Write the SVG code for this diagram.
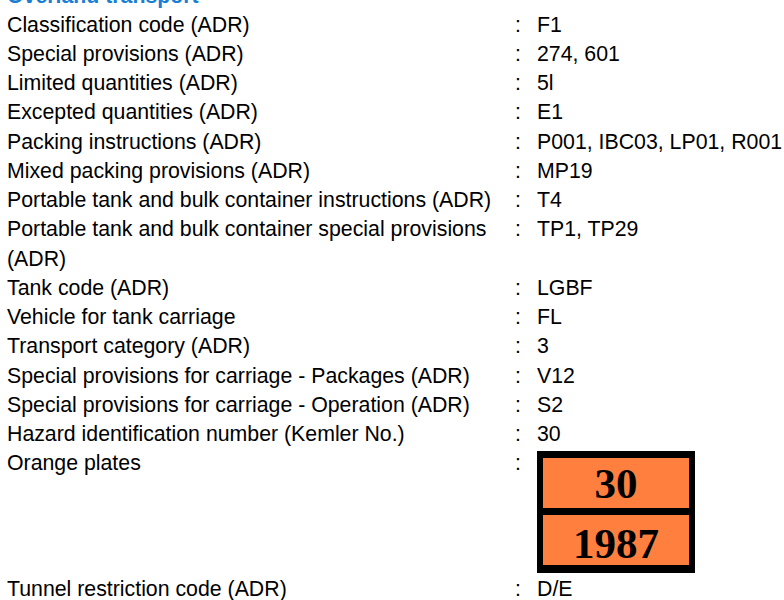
<svg xmlns="http://www.w3.org/2000/svg" width="784" height="600" viewBox="0 0 784 600">
<style>
text{font-family:"Liberation Sans",Arial,sans-serif;font-size:21.3px;fill:#000}
.h{font-weight:bold;fill:#1a7fd4}
.c{}
.p{font-family:"Liberation Serif","Times New Roman",serif;font-weight:bold;font-size:43px;text-anchor:middle}
.o{fill:#ff7f3f}
</style>
<rect width="784" height="600" fill="#fff"/>
<g id="header"><text class="h" x="7" y="3">Overland transport</text></g>
<g id="r0"><text x="7" y="31.5">Classification code (ADR)</text><text x="515" y="31.5">:</text><text x="537" y="31.5">F1</text></g>
<g id="r1"><text x="7" y="60.75">Special provisions (ADR)</text><text x="515" y="60.75">:</text><text x="537" y="60.75">274, 601</text></g>
<g id="r2"><text x="7" y="90">Limited quantities (ADR)</text><text x="515" y="90">:</text><text x="537" y="90">5l</text></g>
<g id="r3"><text x="7" y="119.25">Excepted quantities (ADR)</text><text x="515" y="119.25">:</text><text x="537" y="119.25">E1</text></g>
<g id="r4"><text x="7" y="148.5">Packing instructions (ADR)</text><text x="515" y="148.5">:</text><text x="537" y="148.5">P001, IBC03, LP01, R001</text></g>
<g id="r5"><text x="7" y="177.75">Mixed packing provisions (ADR)</text><text x="515" y="177.75">:</text><text x="537" y="177.75">MP19</text></g>
<g id="r6"><text x="7" y="207">Portable tank and bulk container instructions (ADR)</text><text x="515" y="207">:</text><text x="537" y="207">T4</text></g>
<g id="r7"><text x="7" y="236.25">Portable tank and bulk container special provisions</text><text x="7" y="265.5">(ADR)</text><text x="515" y="236.25">:</text><text x="537" y="236.25">TP1, TP29</text></g>
<g id="r9"><text x="7" y="294.75">Tank code (ADR)</text><text x="515" y="294.75">:</text><text x="537" y="294.75">LGBF</text></g>
<g id="r10"><text x="7" y="324">Vehicle for tank carriage</text><text x="515" y="324">:</text><text x="537" y="324">FL</text></g>
<g id="r11"><text x="7" y="353.25">Transport category (ADR)</text><text x="515" y="353.25">:</text><text x="537" y="353.25">3</text></g>
<g id="r12"><text x="7" y="382.5">Special provisions for carriage - Packages (ADR)</text><text x="515" y="382.5">:</text><text x="537" y="382.5">V12</text></g>
<g id="r13"><text x="7" y="411.75">Special provisions for carriage - Operation (ADR)</text><text x="515" y="411.75">:</text><text x="537" y="411.75">S2</text></g>
<g id="r14"><text x="7" y="441">Hazard identification number (Kemler No.)</text><text x="515" y="441">:</text><text x="537" y="441">30</text></g>
<g id="r15"><text x="7" y="470.25">Orange plates</text><text x="515" y="470.25">:</text></g>
<g id="plate">
<rect x="537" y="451" width="158" height="122" fill="#000"/>
<rect class="o" x="543" y="458" width="146" height="50"/>
<rect class="o" x="543" y="515" width="146" height="50"/>
<text class="p" x="616" y="498">30</text>
<text class="p" x="616" y="558">1987</text>
</g>
<g id="r16"><text x="7" y="596">Tunnel restriction code (ADR)</text><text x="515" y="596">:</text><text x="537" y="596">D/E</text></g>
<g id="connectors"/>
</svg>
